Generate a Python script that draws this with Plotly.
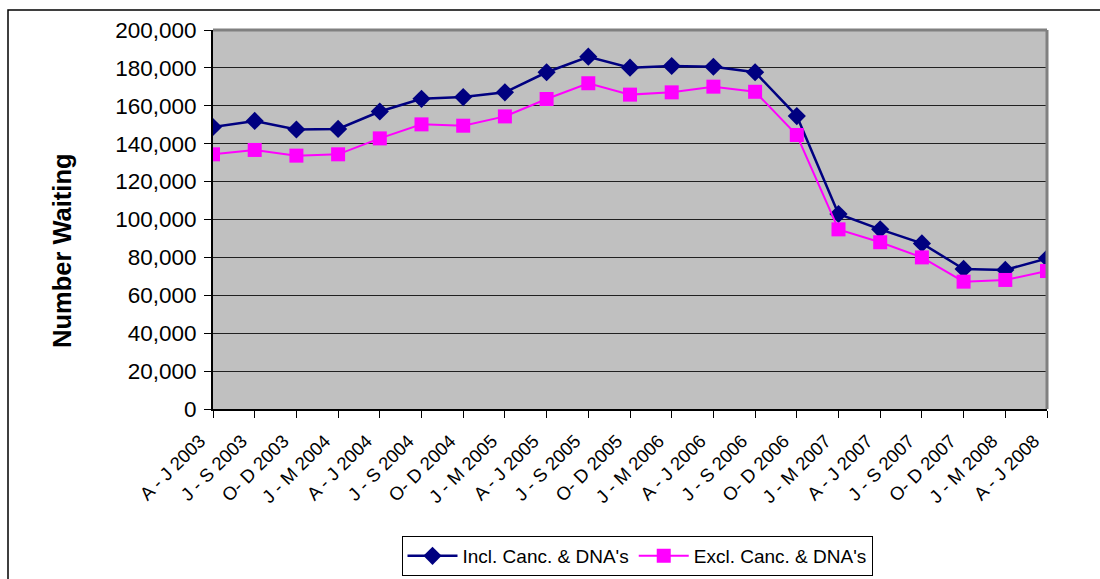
import plotly.graph_objects as go

categories = ["A - J 2003", "J - S 2003", "O- D 2003", "J - M 2004", "A - J 2004",
              "J - S 2004", "O- D 2004", "J - M 2005", "A - J 2005", "J - S 2005",
              "O- D 2005", "J - M 2006", "A - J 2006", "J - S 2006", "O- D 2006",
              "J - M 2007", "A - J 2007", "J - S 2007", "O- D 2007", "J - M 2008",
              "A - J 2008"]

incl = [148800, 152000, 147500, 147800, 157000, 163700, 164600, 167100, 177700, 185900,
        180100, 181000, 180600, 177700, 154600, 102900, 94800, 87400, 73900, 73400, 79500]

excl = [134400, 136700, 133700, 134400, 142800, 150200, 149500, 154400, 163600, 171900,
        165900, 167100, 170100, 167400, 144600, 94800, 88000, 80000, 67200, 68100, 72800]

y_ticks = list(range(0, 200001, 20000))

W, H = 1100, 579
PL, PT, PR, PB = 213, 30, 1047, 409
PW, PH = PR - PL, PB - PT


def px(x):
    return (x - PL) / PW


def py(y):
    return (PB - y) / PH


fig = go.Figure()
fig.add_trace(go.Scatter(
    x=categories, y=incl, mode="lines+markers", name="Incl. Canc. & DNA's",
    line=dict(color="#000080", width=2.5),
    marker=dict(symbol="diamond", size=14, color="#000080"),
))
fig.add_trace(go.Scatter(
    x=categories, y=excl, mode="lines+markers", name="Excl. Canc. & DNA's",
    line=dict(color="#FF00FF", width=2),
    marker=dict(symbol="square", size=14, color="#FF00FF"),
))

fig.update_layout(
    width=W, height=H,
    margin=dict(l=PL, r=W - PR, t=PT, b=H - PB, autoexpand=False),
    paper_bgcolor="white",
    plot_bgcolor="#C0C0C0",
    font=dict(family="Liberation Sans, Arial, sans-serif", color="black"),
    showlegend=True,
    legend=dict(
        orientation="h", x=px(637), xanchor="center", y=py(576), yanchor="bottom",
        bordercolor="black", borderwidth=1, bgcolor="white",
        font=dict(size=19), itemwidth=50,
    ),
    xaxis=dict(
        type="category", range=[0, 20], tickangle=-45, automargin=False,
        tickfont=dict(size=18.5), ticks="outside", ticklen=7, tickcolor="black",
        ticklabelshift=-13, ticklabelstandoff=5,
        showgrid=False, showline=True, linecolor="black", linewidth=2,
        mirror=False,
    ),
    yaxis=dict(
        range=[0, 200000], tickvals=y_ticks, tickformat=",", ticksuffix="\u00a0",
        automargin=False, ticklabelstandoff=3,
        tickfont=dict(size=22.5), ticks="outside", ticklen=7, tickcolor="black",
        showgrid=True, gridcolor="#202020", gridwidth=1,
        showline=True, linecolor="black", linewidth=2,
        zeroline=False,
    ),
    annotations=[
        dict(text="<b>Number Waiting</b>", xref="paper", yref="paper",
             x=px(62), y=py(251), xanchor="center", yanchor="middle",
             textangle=-90, showarrow=False, font=dict(size=25.5)),
    ],
    shapes=[
        # outer chart frame
        dict(type="rect", xref="paper", yref="paper",
             x0=px(8), x1=px(1120), y0=py(620), y1=py(10),
             line=dict(color="black", width=1.5), layer="below"),
        # plot area border top/right in gray
        dict(type="line", xref="paper", yref="paper", x0=0, x1=1, y0=1, y1=1,
             line=dict(color="#808080", width=3)),
        dict(type="line", xref="paper", yref="paper", x0=1, x1=1, y0=0, y1=1,
             line=dict(color="#808080", width=3)),
    ],
)

fig.write_html(
    "out.html",
    config={"displayModeBar": False},
    post_script=(
        "document.body.style.margin='0';"
        "document.body.style.padding='0';"
        "document.documentElement.style.overflow='hidden';"
        "document.body.style.overflow='hidden';"
    ),
)
